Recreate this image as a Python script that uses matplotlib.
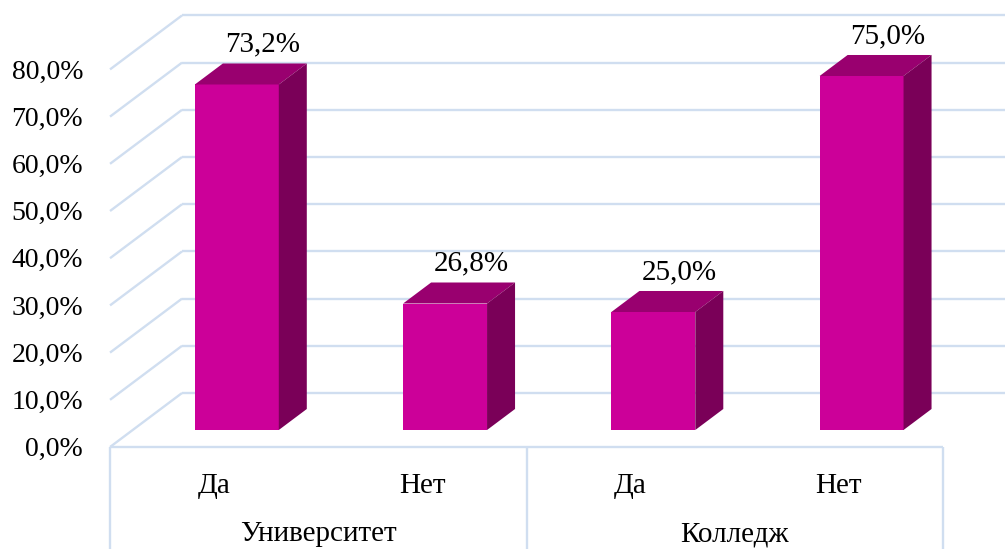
import matplotlib
matplotlib.use("Agg")
import matplotlib.pyplot as plt
from matplotlib.patches import Polygon
from matplotlib.lines import Line2D
from matplotlib.transforms import IdentityTransform

# ---- data ----
groups = ["Университет", "Колледж"]
answers = ["Да", "Нет", "Да", "Нет"]
values = [73.2, 26.8, 25.0, 75.0]
value_labels = ["73,2%", "26,8%", "25,0%", "75,0%"]
y_ticks = [0, 10, 20, 30, 40, 50, 60, 70, 80]
y_tick_labels = ["0,0%", "10,0%", "20,0%", "30,0%", "40,0%",
                 "50,0%", "60,0%", "70,0%", "80,0%"]

# ---- style ----
W, H, DPI = 1005, 549, 100
FRONT = "#CC0099"
TOP = "#99006F"
SIDE = "#7A0058"
GRID = "#D0DEF0"
FONT = "Liberation Serif"

# oblique depth direction (pixels per unit depth)
DEPTH_X, DEPTH_Y = 72.0, 54.0
D_FRONT = -0.315   # front edge of the floor / category axis
D_BAR_BACK = 0.389  # back face of the bars
D_WALL = 0.685     # back wall

fig = plt.figure(figsize=(W / DPI, H / DPI), dpi=DPI)
ax = fig.add_axes([132.7 / W, (H - 430) / H, 833 / W, 377.6 / H])
ax.set_xlim(-0.5, 3.5)
ax.set_ylim(0, 80)
ax.axis("off")

ident = IdentityTransform()


def P(x, y, d=0.0):
    px, py = ax.transData.transform((x, y))
    return (px + d * DEPTH_X, py + d * DEPTH_Y)


def line(p1, p2, **kw):
    ax.add_artist(Line2D([p1[0], p2[0]], [p1[1], p2[1]], transform=ident,
                         clip_on=False, color=GRID, lw=1.7,
                         solid_capstyle="butt", zorder=1, **kw))


# back wall gridlines and left wall diagonals
for v in y_ticks:
    line(P(-0.5, v, D_WALL), P(3.5, v, D_WALL))
    line(P(-0.5, v, D_FRONT), P(-0.5, v, D_WALL))

# front edge of the floor and category dividers
line(P(-0.5, 0, D_FRONT), P(3.5, 0, D_FRONT))
for xb in (-0.5, 1.5, 3.5):
    px, py = P(xb, 0, D_FRONT)
    line((px, py), (px, -5))

# bars: front faces through the axes, top and side faces as oblique extrusion
xs = list(range(len(values)))
bw = 0.403
ax.bar(xs, values, width=bw, color=FRONT, zorder=3)
for x, v in zip(xs, values):
    l, r = x - bw / 2, x + bw / 2
    top = [P(l, v), P(r, v), P(r, v, D_BAR_BACK), P(l, v, D_BAR_BACK)]
    side = [P(r, 0), P(r, v), P(r, v, D_BAR_BACK), P(r, 0, D_BAR_BACK)]
    ax.add_artist(Polygon(top, closed=True, transform=ident, clip_on=False,
                          facecolor=TOP, edgecolor="none", zorder=3))
    ax.add_artist(Polygon(side, closed=True, transform=ident, clip_on=False,
                          facecolor=SIDE, edgecolor="none", zorder=3))

# value labels above the bars
for x, v, lab in zip(xs, values, value_labels):
    px, py = P(x, v, D_BAR_BACK)
    ax.text(px - 2, py + 12, lab, transform=ident, ha="center", va="baseline",
            fontsize=21, family=FONT, color="black", zorder=5)

# y tick labels on the front plane
for v, lab in zip(y_ticks, y_tick_labels):
    px, py = P(-0.5, v, D_FRONT)
    ax.text(px - 27, py - 9, lab, transform=ident, ha="right", va="baseline",
            fontsize=20, family=FONT, color="black")

# category labels
for x, lab in zip(xs, answers):
    px, py = P(x, 0, D_FRONT)
    ax.text(px, py - 46, lab, transform=ident, ha="center", va="baseline",
            fontsize=21, family=FONT, color="black")

for gi, lab in enumerate(groups):
    px, py = P(2 * gi + 0.5, 0, D_FRONT)
    ax.text(px, py - 94, lab, transform=ident, ha="center", va="baseline",
            fontsize=21, family=FONT, color="black")

fig.savefig("out.png", dpi=DPI)
